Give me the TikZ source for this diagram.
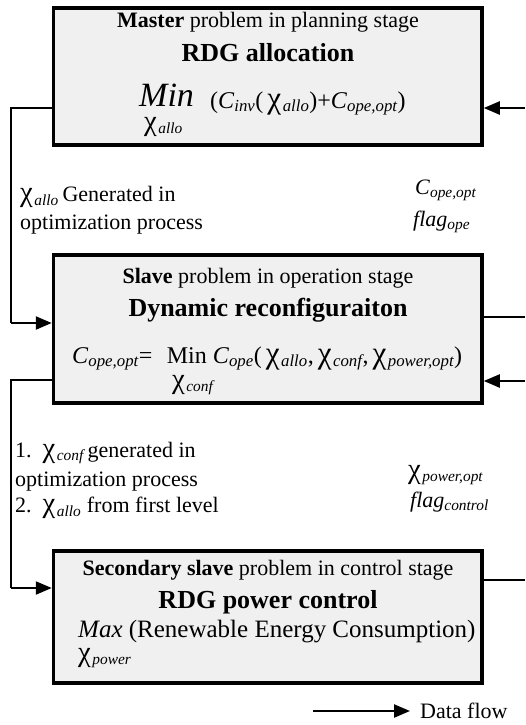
\documentclass[tikz,border=0pt]{standalone}
\usepackage{fontspec}
\usepackage{graphicx}
\setmainfont{Liberation Serif}
\usetikzlibrary{arrows.meta}
\definecolor{boxgray}{HTML}{F0F0F0}
\newcommand{\fs}[1]{\fontsize{#1}{#1}\selectfont}
\newcommand{\chisub}[1]{\scalebox{1.3}{χ}\textsubscript{\kern1.5pt\itshape #1}}
\newcommand{\isub}[2]{\textit{#1}\textsubscript{\itshape #2}}
\begin{document}
\begin{tikzpicture}[x=1pt,y=1pt,
  box/.style={draw, line width=3.5pt, fill=boxgray, inner sep=0pt},
  link/.style={line width=2.3pt},
  arr/.style={link, -{Triangle[length=16pt,width=13pt]}},
  txt/.style={inner sep=0pt, font=\fs{22}},
  big/.style={inner sep=0pt, font=\fs{26}\bfseries},
  lab/.style={inner sep=0pt, anchor=west, font=\fs{22}}]
\useasboundingbox (0,0) rectangle (525,-725);

% boxes
\node[box, minimum width=428.5, minimum height=137] (b1) at (267.75,-76.5) {};
\node[box, minimum width=428.5, minimum height=148] (b2) at (267.75,-329) {};
\node[box, minimum width=428.5, minimum height=132] (b3) at (267.75,-617) {};

% box 1 text
\node[txt] (t1a) at (268,-22) {\textbf{Master} problem in planning stage};
\node[big] (t1b) at (268,-53) {RDG allocation};
\node[inner sep=0pt, anchor=base west, font=\fs{34}\itshape] (min1) at (139,-106) {Min};
\node[inner sep=0pt, anchor=base west, font=\fs{22}] (x1) at (144,-130) {\chisub{allo}};
\node[inner sep=0pt, anchor=base west, font=\fs{24}] (f1) at (210,-108) {(\isub{C}{inv}(\,\chisub{allo})+\isub{C}{ope,opt})};

% box 2 text
\node[txt] (t2a) at (268,-278) {\textbf{Slave} problem in operation stage};
\node[big] (t2b) at (268,-310) {Dynamic reconfiguraiton};
\node[inner sep=0pt, anchor=base west, font=\fs{24}] (f2) at (72,-363) {\isub{C}{ope,opt}=\hspace{0.6em}Min \isub{C}{ope}(\,\chisub{allo},\,\chisub{conf},\,\chisub{power,opt})};
\node[inner sep=0pt, anchor=base west, font=\fs{22}] (x2) at (172,-388) {\chisub{conf}};

% box 3 text
\node[inner sep=0pt, font=\fs{22}] (t3a) at (268,-570) {\textbf{Secondary slave} problem in control stage};
\node[big] (t3b) at (268,-602) {RDG power control};
\node[inner sep=0pt, anchor=base west, font=\fs{25}] (f3) at (78,-637) {\textit{Max} (Renewable Energy Consumption)};
\node[inner sep=0pt, anchor=base west, font=\fs{22}] (x3) at (78,-661) {\chisub{power}};

% labels between
\node[lab] (l1a) at (20,-197) {\chisub{allo}\,Generated in};
\node[lab] (l1b) at (20,-225) {optimization process};
\node[lab] (r1a) at (415,-190) {\isub{C}{ope,opt}};
\node[lab] (r1b) at (413,-222) {\isub{flag}{ope}};

\node[lab] (l2a) at (15,-453) {1.\ \ \chisub{conf}\,generated in};
\node[lab] (l2b) at (15,-482) {optimization process};
\node[lab] (l2c) at (15,-508) {2.\ \ \chisub{allo} from first level};
\node[lab] (r2a) at (408,-475) {\chisub{power,opt}};
\node[lab] (r2b) at (410,-502) {\isub{flag}{control}};

% connector coordinates
\coordinate (e1) at (525,-108);
\coordinate (e2) at (525,-317);
\coordinate (e3) at (525,-381);
\coordinate (e4) at (525,-580);
\coordinate (v1) at (11,-108);
\coordinate (v1b) at (11,-323);
\coordinate (v2) at (11,-380);
\coordinate (v2b) at (11,-588);

% connectors
\draw[arr] (e1) -- (b1.east |- e1);
\draw[link] (b1.west |- v1) -- (v1) -- (v1b);
\draw[arr] (v1b) -- (b2.west |- v1b);
\draw[link] (b2.east |- e2) -- (e2);
\draw[arr] (e3) -- (b2.east |- e3);
\draw[link] (b2.west |- v2) -- (v2) -- (v2b);
\draw[arr] (v2b) -- (b3.west |- v2b);
\draw[link] (b3.east |- e4) -- (e4);

% legend
\coordinate (d0) at (313,-711);
\node[lab] (dl) at (420,-711) {Data flow};
\draw[arr] (d0) -- ([xshift=-10pt]dl.west);
\end{tikzpicture}
\end{document}
